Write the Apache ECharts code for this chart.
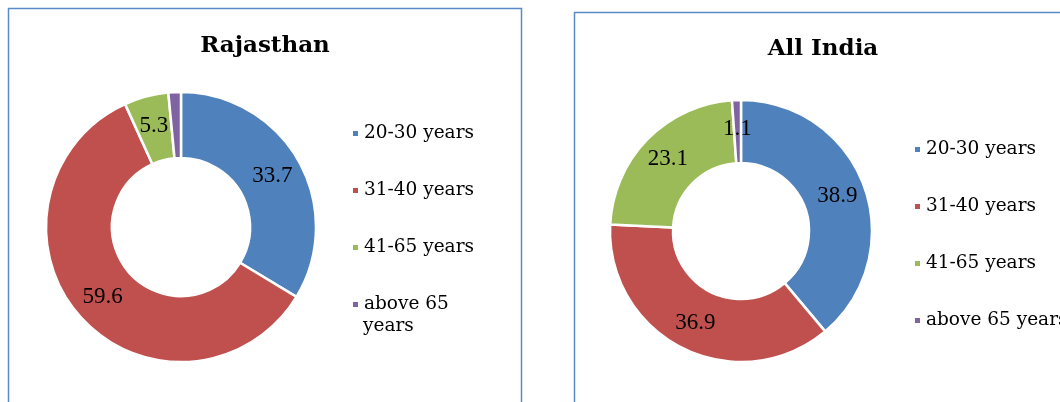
<!DOCTYPE html>
<html>
<head>
<meta charset="utf-8">
<script src="https://cdn.jsdelivr.net/npm/echarts@6/dist/echarts.min.js"></script>
<style>
  html, body { margin: 0; padding: 0; background: #fff; }
  #main { width: 1060px; height: 402px; }
</style>
</head>
<body>
<div id="main"></div>
<script>
// age groups of the two populations
var categories = ['20-30 years', '31-40 years', '41-65 years', 'above 65 years'];
var rajasthanValues = [33.7, 59.6, 5.3, 1.5];
var indiaValues = [38.9, 36.9, 23.1, 1.1];
var titles = ['Rajasthan', 'All India'];
var colors = ['#4F81BD', '#C0504D', '#9BBB59', '#8064A2'];

var myChart = echarts.init(document.getElementById('main'));

function pieData(values) {
    return categories.map(function (name, i) {
        return { name: name, value: values[i] };
    });
}

function pieSeries(values, center, radius) {
    return {
        type: 'pie',
        center: center,
        radius: radius,
        startAngle: 90,
        clockwise: true,
        avoidLabelOverlap: false,
        silent: true,
        itemStyle: { borderColor: '#fff', borderWidth: 2.5 },
        label: {
            show: true,
            position: 'inside',
            formatter: '{c}',
            color: '#000',
            fontFamily: 'Liberation Serif',
            fontSize: 23
        },
        labelLine: { show: false },
        data: pieData(values)
    };
}

var legendText = { fontFamily: 'DejaVu Serif', fontSize: 18.5, color: '#000', lineHeight: 23 };
var titleText = { fontFamily: 'DejaVu Serif', fontWeight: 'bold', fontSize: 23, color: '#000' };

var option = {
    backgroundColor: '#fff',
    color: colors,
    animation: false,
    graphic: [
        { type: 'rect', shape: { x: 8.5, y: 8.5, width: 513, height: 420 },
          style: { fill: 'none', stroke: '#5a8ac8', lineWidth: 1.5 } },
        { type: 'rect', shape: { x: 574.5, y: 12.5, width: 520, height: 420 },
          style: { fill: 'none', stroke: '#5a8ac8', lineWidth: 1.5 } },
        // the left legend wraps its last entry onto a second line
        { type: 'text', left: 363, top: 317,
          style: { text: 'years', font: '18.5px "DejaVu Serif"', fill: '#000' } }
    ],
    title: [
        { text: titles[0], left: 260, top: 41, textAlign: 'center', textVerticalAlign: 'middle',
          textStyle: titleText },
        { text: titles[1], left: 818, top: 44, textAlign: 'center', textVerticalAlign: 'middle',
          textStyle: titleText }
    ],
    legend: [
        {
            orient: 'vertical', left: 351, top: 122, padding: 0,
            itemWidth: 7, itemHeight: 7, icon: 'rect', itemGap: 34,
            selectedMode: false,
            data: categories,
            formatter: function (name) {
                return name === 'above 65 years' ? 'above 65' : name;
            },
            textStyle: legendText
        },
        {
            orient: 'vertical', left: 913, top: 138, padding: 0,
            itemWidth: 7, itemHeight: 7, icon: 'rect', itemGap: 34,
            selectedMode: false,
            data: categories,
            textStyle: legendText
        }
    ],
    series: [
        pieSeries(rajasthanValues, [181, 227], [69, 135]),
        pieSeries(indiaValues, [741, 231], [68, 131])
    ]
};

myChart.setOption(option);
</script>
</body>
</html>
